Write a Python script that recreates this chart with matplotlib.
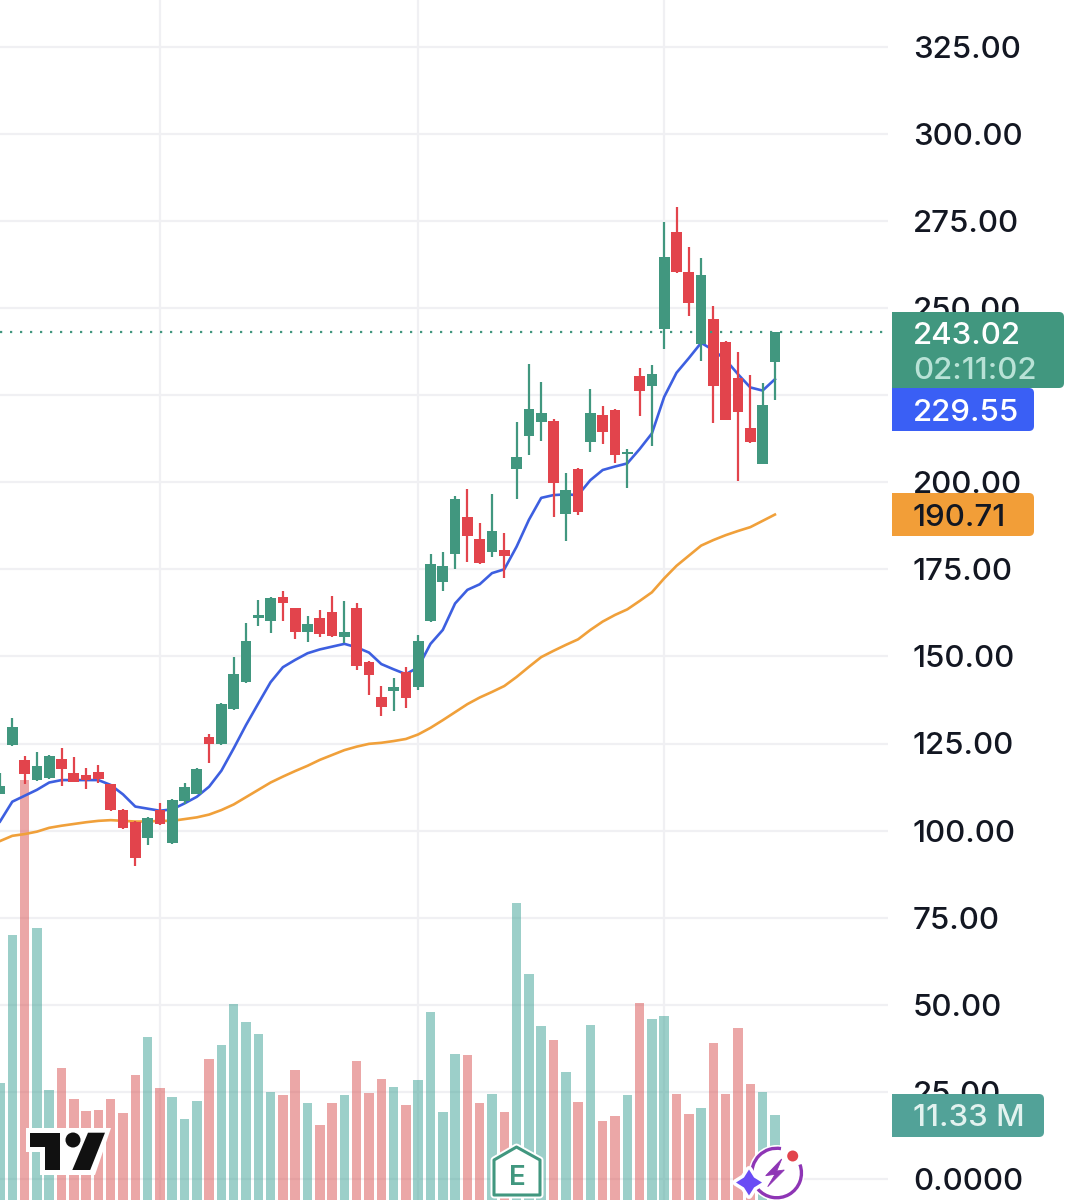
import numpy as np
import matplotlib
matplotlib.use('Agg')
import matplotlib.pyplot as plt
from matplotlib.patches import Circle, FancyBboxPatch, Polygon, Rectangle, Arc

plt.rcParams['font.family'] = ['Inter', 'DejaVu Sans']
plt.rcParams['font.weight'] = 'medium'

# daily candles, price in USD, volume in millions
opens = [110.4, 124.6, 120.3, 114.5, 115.0, 120.5, 116.6, 116.0, 116.9, 113.3, 105.9, 102.6, 98.0,
         105.9, 96.4, 108.5, 110.5, 127.0, 124.9, 134.8, 142.6, 160.9, 160.1, 167.1, 163.8, 157.1,
         161.1, 162.8, 155.7, 163.8, 148.5, 138.4, 140.1, 145.4, 141.2, 160.2, 171.4, 179.4, 190.0,
         183.6, 179.9, 180.5, 203.8, 213.4, 217.4, 217.6, 191.0, 203.9, 211.6, 219.2, 220.6, 208.0,
         230.5, 227.6, 244.0, 271.9, 260.2, 239.6, 246.8, 240.3, 229.9, 215.6, 205.2, 234.6]
highs = [116.5, 132.2, 121.4, 122.6, 121.7, 123.6, 121.2, 117.9, 118.8, 113.4, 106.2, 102.8, 103.8,
         107.8, 109.0, 113.8, 117.9, 127.7, 136.5, 149.9, 159.5, 166.2, 167.0, 168.8, 164.0, 161.7,
         163.3, 167.3, 165.9, 165.2, 148.7, 141.5, 143.7, 147.0, 156.1, 179.3, 180.0, 196.0, 198.0,
         188.2, 196.5, 185.5, 217.2, 233.8, 228.8, 218.1, 202.6, 204.2, 226.8, 221.9, 221.1, 209.6,
         232.9, 233.6, 274.8, 278.9, 267.4, 264.3, 250.7, 240.5, 237.5, 230.8, 228.4, 243.2]
lows = [110.4, 124.4, 113.4, 114.2, 114.8, 112.8, 113.9, 112.0, 113.6, 105.7, 100.5, 89.9, 95.8,
        101.5, 96.2, 107.6, 110.4, 119.5, 124.7, 134.7, 142.4, 158.7, 156.7, 160.3, 154.9, 154.1,
        155.6, 155.5, 153.8, 146.0, 138.8, 132.9, 134.2, 135.3, 140.4, 159.8, 168.9, 175.1, 177.0,
        176.5, 178.6, 172.4, 195.2, 207.8, 211.9, 190.1, 183.1, 190.6, 208.8, 210.9, 205.6, 198.4,
        219.0, 210.5, 238.1, 260.0, 247.7, 234.8, 216.9, 217.9, 200.4, 211.3, 205.2, 223.6]
closes = [112.8, 129.8, 116.2, 118.5, 121.5, 117.6, 114.0, 114.5, 114.8, 105.9, 100.8, 92.2, 103.7,
          101.8, 108.8, 112.6, 117.6, 124.9, 136.3, 144.9, 154.4, 161.9, 166.9, 165.2, 157.0, 159.2,
          156.4, 155.9, 157.1, 147.2, 144.7, 135.6, 141.3, 138.1, 154.4, 176.5, 175.9, 195.1, 184.6,
          176.9, 186.0, 178.9, 207.2, 221.1, 220.0, 199.7, 197.7, 191.5, 219.9, 214.4, 207.8, 208.6,
          226.2, 231.1, 264.6, 260.4, 251.5, 259.5, 227.7, 217.9, 220.1, 211.5, 222.2, 243.02]
volumes = [14.2, 27.6, 41.7, 28.3, 13.6, 15.6, 12.8, 11.7, 11.8, 12.8, 11.5, 15.0, 18.4, 13.8, 13.0,
           11.0, 12.6, 16.4, 17.7, 21.4, 19.8, 18.7, 13.4, 13.1, 15.4, 12.4, 10.4, 12.4, 13.1, 16.2,
           13.3, 14.6, 13.9, 12.2, 14.5, 20.7, 11.6, 16.9, 16.8, 12.4, 13.2, 11.6, 30.5, 24.1, 19.4,
           18.1, 15.2, 12.5, 19.5, 10.8, 11.2, 13.1, 21.5, 20.0, 20.3, 13.2, 11.4, 12.0, 17.9, 13.2,
           19.2, 14.1, 13.4, 11.33]
ma_fast = [102.6, 108.3, 110.0, 111.7, 113.8, 114.5, 114.5, 114.5, 114.5, 113.1, 110.4, 106.9, 106.3,
           105.7, 106.1, 107.8, 109.7, 112.6, 117.2, 123.6, 130.3, 136.5, 142.6, 146.9, 149.0, 150.9,
           152.0, 152.8, 153.6, 152.6, 151.1, 147.8, 146.3, 144.9, 146.9, 153.6, 157.6, 165.2, 169.1,
           170.7, 173.9, 175.0, 181.5, 189.2, 195.5, 196.3, 196.5, 196.3, 200.6, 203.5, 204.5, 205.4,
           209.5, 214.0, 224.5, 231.4, 235.6, 240.0, 237.9, 235.1, 231.0, 227.2, 226.3, 229.55]
ma_slow = [97.0, 98.5, 99.0, 99.7, 100.8, 101.4, 101.9, 102.4, 102.8, 103.0, 102.8, 102.6, 102.6,
           102.8, 102.8, 103.3, 103.8, 104.6, 105.9, 107.5, 109.6, 111.7, 113.8, 115.5, 117.1, 118.6,
           120.3, 121.7, 123.1, 124.1, 124.9, 125.2, 125.7, 126.3, 127.6, 129.5, 131.7, 134.0, 136.3,
           138.2, 139.8, 141.5, 144.1, 147.0, 149.8, 151.6, 153.3, 154.9, 157.6, 160.0, 161.9, 163.5,
           165.9, 168.4, 172.4, 176.0, 178.9, 181.8, 183.4, 184.8, 186.0, 187.1, 188.9, 190.71]
price_ticks = [0, 25, 50, 75, 100, 125, 150, 175, 200, 225, 250, 275, 300, 325]
price_labels = ['0.0000', '25.00', '50.00', '75.00', '100.00', '125.00', '150.00', '175.00',
                '200.00', '', '250.00', '275.00', '300.00', '325.00']
month_starts = [13, 34, 54]

GREEN = '#41977F'
RED = '#E2444C'
BLUE = '#3D5FE0'
ORANGE = '#F0A03A'
TEXT = '#131722'
GRID = '#F0F0F3'
PURPLE = '#8E35B5'

PX_PER_BAR = 12.3
PX_PER_USD = 3.484
PX_PER_M = 11.033

fig = plt.figure(figsize=(10.74, 12), dpi=100)
# three layers sharing x: grid and labels, then volume, then candles
ax = fig.add_axes([0, 0, 888 / 1074, 1], zorder=1)
ax_vol = ax.twinx()
ax_vol.set_zorder(2)
ax_price = ax.twinx()
ax_price.set_zorder(3)

x = np.arange(len(closes))
o, h, l, c = map(np.array, (opens, highs, lows, closes))
up = c >= o
colors = np.where(up, GREEN, RED)

vol_colors = np.where(up, '#3BA195', '#D95151')
ax_vol.bar(x, volumes, width=0.77, color=vol_colors, alpha=0.5, linewidth=0)
ax_vol.set_ylim(40 / PX_PER_M, 1240 / PX_PER_M)
ax_vol.axis('off')

# moving averages go behind the candles
ax_price.plot(x, ma_slow, color=ORANGE, lw=1.9, zorder=3)
ax_price.plot(x, ma_fast, color=BLUE, lw=1.9, zorder=3)

ax_price.vlines(x, l, h, colors=colors, lw=1.6, zorder=4)
ax_price.bar(x, np.abs(c - o), bottom=np.minimum(o, c), width=0.87, color=colors, linewidth=0, zorder=5)

ax_price.axhline(closes[-1], color=GREEN, lw=1.6, ls=(0, (1, 3.5)), zorder=6)

ax.set_xlim(0, 888 / PX_PER_BAR)
ax.set_ylim(-21 / PX_PER_USD, 1179 / PX_PER_USD)
ax_price.set_ylim(ax.get_ylim())
ax_price.axis('off')
ax.set_xticks(month_starts)
ax.set_xticklabels([])
ax.yaxis.tick_right()
ax.set_yticks(price_ticks)
ax.set_yticklabels(price_labels, fontsize=22.5, color=TEXT)
ax.tick_params(length=0, pad=18)
ax.grid(color=GRID, lw=1.6)
for s in ax.spines.values():
    s.set_visible(False)

# overlay in pixels for the price badges and the site icons
top = fig.add_axes([0, 0, 1, 1], zorder=10)
top.set_xlim(0, 1074)
top.set_ylim(1200, 0)
top.axis('off')


def badge(x0, y0, x1, y1, color):
    top.add_patch(FancyBboxPatch((x0, y0), x1 - x0, y1 - y0, boxstyle='round,pad=0,rounding_size=5',
                                 fc=color, ec='none'))
    top.add_patch(Rectangle((x0, y0), 10, y1 - y0, fc=color, ec='none'))


badge(892, 312, 1064, 388, '#41977F')
badge(892, 388, 1034, 431, '#3A5FF5')
badge(892, 493, 1034, 536, '#F29E38')
badge(892, 1094, 1044, 1137, '#52A298')

fs = 22.5
top.text(913, 336, f'{closes[-1]:.2f}', color='white', fontsize=fs, va='center')
top.text(913, 371, '02:11:02', color='#B8E2D6', fontsize=fs, va='center')
top.text(913, 413, f'{ma_fast[-1]:.2f}', color='white', fontsize=fs, va='center')
top.text(913, 518, f'{ma_slow[-1]:.2f}', color=TEXT, fontsize=fs, va='center')
top.text(913, 1118, f'{volumes[-1]:.2f} M', color='#E2F2EF', fontsize=fs, va='center')

# TradingView logo
top.add_patch(Polygon([(26, 1128), (111, 1128), (95, 1175), (40, 1175), (40, 1152), (26, 1152)], fc='white', ec='none'))
top.add_patch(Polygon([(30, 1132.7), (60.3, 1132.7), (60.3, 1170), (44.8, 1170), (44.8, 1147.3), (30, 1147.3)],
                      fc='#111111', ec='none'))
top.add_patch(Circle((73, 1140), 7.5, fc='#111111', ec='none'))
top.add_patch(Polygon([(88, 1132.7), (105, 1132.7), (90.2, 1170), (72.3, 1170)], fc='#111111', ec='none'))

# earnings marker
house = [(516.5, 1147), (540, 1160), (540, 1195), (494, 1195), (494, 1160)]
top.add_patch(Polygon(house, fc='white', ec='white', lw=5, joinstyle='round'))
top.add_patch(Polygon(house, fc='white', ec=GREEN, lw=2.2, joinstyle='round'))
top.text(517.5, 1178, 'E', color=GREEN, fontsize=20, fontweight='semibold', ha='center', va='center')

# lightning icon, angles run clockwise on screen because y is flipped
top.add_patch(Circle((776.7, 1173), 28, fc='white', ec='none'))
top.add_patch(Arc((776.7, 1173), 49.5, 49.5, theta1=170, theta2=280, color=PURPLE, lw=2.4))
top.add_patch(Arc((776.7, 1173), 49.5, 49.5, theta1=-20, theta2=140, color=PURPLE, lw=2.4))
top.add_patch(Polygon([(781.7, 1159), (765.7, 1175.7), (775, 1174.3), (767.7, 1186.7), (784.3, 1170), (776.7, 1171)],
                      fc=PURPLE, ec=PURPLE, lw=0.6))
top.add_patch(Circle((792.7, 1156), 7.5, fc='white', ec='none'))
top.add_patch(Circle((792.7, 1156), 5.5, fc=RED, ec='none'))
star = [(749, 1169.5), (754, 1177.5), (762, 1182.5), (754, 1187.5), (749, 1195.5), (744, 1187.5), (736, 1182.5), (744, 1177.5)]
top.add_patch(Polygon(star, fc='white', ec='white', lw=5, joinstyle='round'))
top.add_patch(Polygon(star, fc='#6A4CF5', ec='none'))

fig.savefig('out.png', dpi=100)
